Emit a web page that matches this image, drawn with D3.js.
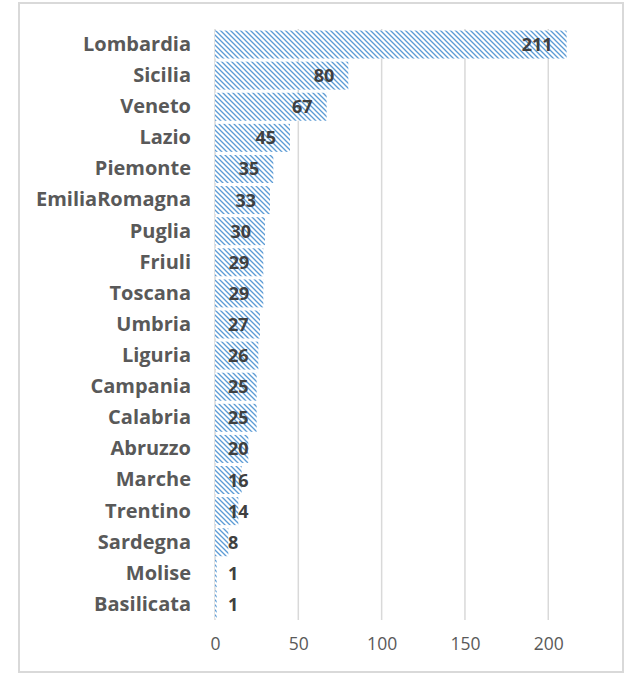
<!DOCTYPE html>
<html>
<head>
<meta charset="utf-8">
<script src="https://cdn.jsdelivr.net/npm/d3@7"></script>
<style>
  body { margin: 0; background: #fff; }
  svg { display: block; }
</style>
</head>
<body>
<svg id="chart" width="630" height="675"></svg>
<script>
// regions and values, top to bottom as in the chart
var regions = ['Lombardia', 'Sicilia', 'Veneto', 'Lazio', 'Piemonte', 'EmiliaRomagna',
  'Puglia', 'Friuli', 'Toscana', 'Umbria', 'Liguria', 'Campania', 'Calabria',
  'Abruzzo', 'Marche', 'Trentino', 'Sardegna', 'Molise', 'Basilicata'];
var counts = [211, 80, 67, 45, 35, 33, 30, 29, 29, 27, 26, 25, 25, 20, 16, 14, 8, 1, 1];
var xTicks = [0, 50, 100, 150, 200];

var svg = d3.select('#chart');

//------------------------------------------------------------
// outer frame
svg.append('rect')
    .attr('x', 19).attr('y', 3)
    .attr('width', 604).attr('height', 669)
    .attr('fill', '#fff')
    .attr('stroke', '#d9d9d9')
    .attr('stroke-width', 2);

// hatch pattern (light downward diagonal)
var defs = svg.append('defs');
var pat = defs.append('pattern')
    .attr('id', 'hatch')
    .attr('patternUnits', 'userSpaceOnUse')
    .attr('width', 5).attr('height', 5);
pat.append('rect').attr('width', 5).attr('height', 5).attr('fill', '#fff');
pat.append('path')
    .attr('d', 'M-1,-1L6,6M-1,4L1,6M4,-1L6,1')
    .attr('stroke', '#5b9bd5')
    .attr('stroke-width', 1.3);

//------------------------------------------------------------
// scales
var x = d3.scaleLinear().domain([0, 220]).range([215, 581.6]);
var y = d3.scaleBand().domain(regions).range([29, 620]).paddingInner(0.1).paddingOuter(0.05);

// gridlines
svg.append('g').attr('class', 'grid')
  .selectAll('line')
    .data(xTicks)
  .enter().append('line')
    .attr('x1', function (d) { return x(d); })
    .attr('x2', function (d) { return x(d); })
    .attr('y1', 29)
    .attr('y2', 620)
    .attr('stroke', '#d9d9d9')
    .attr('stroke-width', 1.5);

// x axis labels
var xAxis = d3.axisBottom(x).tickValues(xTicks).tickSize(0).tickPadding(18);
var gx = svg.append('g')
    .attr('transform', 'translate(0,620)')
    .call(xAxis);
gx.select('.domain').remove();
gx.selectAll('text')
    .attr('fill', '#595959')
    .style('font-family', '"Open Sans", sans-serif')
    .style('font-size', '17.5px');

// category axis labels
var yAxis = d3.axisLeft(y).tickSize(0).tickPadding(24);
var gy = svg.append('g')
    .attr('transform', 'translate(' + x(0) + ',0)')
    .call(yAxis);
gy.select('.domain').remove();
gy.selectAll('text')
    .attr('fill', '#595959')
    .style('font-family', '"Open Sans", sans-serif')
    .style('font-weight', 'bold')
    .style('font-size', '20px');

// bars
svg.append('g').attr('class', 'bars')
  .selectAll('rect')
    .data(regions)
  .enter().append('rect')
    .attr('x', x(0))
    .attr('y', function (d) { return y(d); })
    .attr('width', function (d, i) { return x(counts[i]) - x(0); })
    .attr('height', y.bandwidth())
    .attr('fill', 'url(#hatch)');

// value labels (inside end, pushed right when the bar is too short)
svg.append('g').attr('class', 'values')
  .selectAll('text')
    .data(regions)
  .enter().append('text')
    .attr('y', function (d) { return y(d) + y.bandwidth() / 2; })
    .attr('dy', '0.36em')
    .attr('text-anchor', 'end')
    .attr('fill', '#404040')
    .style('font-family', '"Open Sans", sans-serif')
    .style('font-weight', 'bold')
    .style('font-size', '18px')
    .text(function (d, i) { return counts[i]; })
    .attr('x', function (d, i) {
      var w = this.getComputedTextLength();
      return Math.max(x(counts[i]) - 14, x(0) + 13 + w);
    });
</script>
</body>
</html>
